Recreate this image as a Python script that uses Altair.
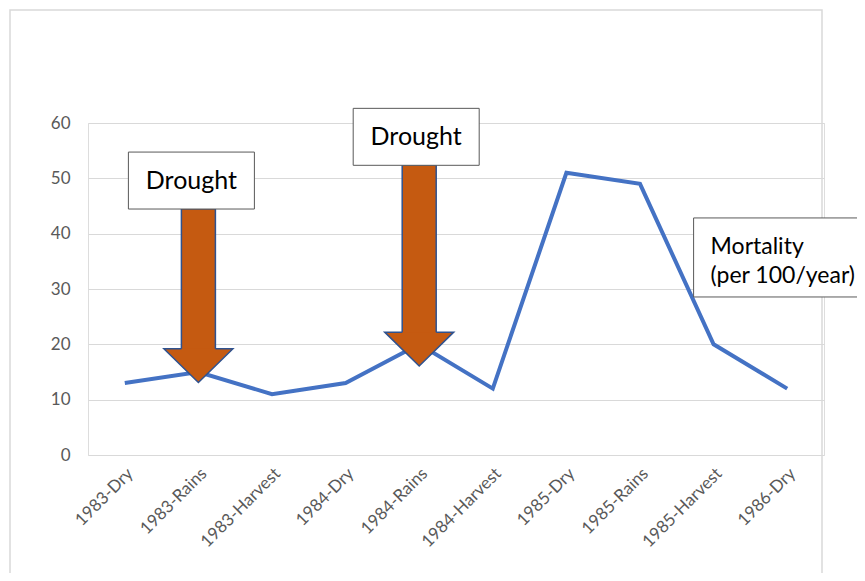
import altair as alt
import pandas as pd

# ---- chart values ----
periods = ["1983-Dry", "1983-Rains", "1983-Harvest", "1984-Dry", "1984-Rains",
           "1984-Harvest", "1985-Dry", "1985-Rains", "1985-Harvest", "1986-Dry"]
mortality = [13, 15, 11, 13, 20, 12, 51, 49, 20, 12]
y_ticks = [0, 10, 20, 30, 40, 50, 60]

drought_periods = ["1983-Rains", "1984-Rains"]
drought_label = "Drought"
series_label = ["Mortality", "(per 100/year)"]
series_label_period = "1985-Harvest"

# annotation anchors (data units on the mortality axis)
arrow_tip = [13.0, 16.3]
arrow_head_base = [19.2, 22.2]
arrow_top = [44.5, 52.4]
box_center = [49.6, 57.5]
box_dx = [-7, -3]
label_box_center = 35.7
label_lines_y = [36.4, 31.0]

FONT = "Lato"
LINE = "#4472C4"
ARROW = "#C55A11"
ARROW_EDGE = "#2F528F"

df = pd.DataFrame({"period": periods, "mortality": mortality})
arrows = pd.DataFrame({"period": drought_periods, "base": [b - 0.5 for b in arrow_head_base],
                       "head": arrow_head_base, "top": arrow_top})

xscale = alt.Scale(type="band", domain=periods, paddingInner=0, paddingOuter=0)
yscale = alt.Scale(domain=[0, 60], nice=False)

X = alt.X("period:N", scale=xscale, sort=periods,
          axis=alt.Axis(title=None, labelAngle=-45, domain=False, ticks=False, grid=False,
                        labelColor="#595959", labelFont=FONT, labelFontSize=17,
                        labelPadding=10))
Y = alt.Y("mortality:Q", scale=yscale,
          axis=alt.Axis(title=None, values=y_ticks, domain=False, ticks=False,
                        labelColor="#595959", labelFont=FONT, labelFontSize=17,
                        labelPadding=18, gridColor="#D9D9D9", gridWidth=1))

frame = alt.Chart(pd.DataFrame({"a": [0]})).mark_rect(
    fillOpacity=0, stroke="#D9D9D9", strokeWidth=1.5
).encode(x=alt.value(-78), x2=alt.value(734), y=alt.value(-113), y2=alt.value(475))

line = alt.Chart(df).mark_line(color=LINE, strokeWidth=4).encode(x=X, y=Y)

shaft = alt.Chart(arrows).mark_bar(size=34, fill=ARROW, stroke=ARROW_EDGE, strokeWidth=1.5).encode(
    x=alt.X("period:N", scale=xscale, sort=periods),
    y=alt.Y("base:Q", scale=yscale),
    y2="top:Q",
)
head = alt.Chart(arrows).mark_point(
    shape="M-0.493,0 L-1,0 L0,0.98 L1,0 L0.493,0",
    size=69 ** 2, filled=True, fill=ARROW, stroke=ARROW_EDGE, strokeWidth=1.5,
    opacity=1, fillOpacity=1, strokeOpacity=1,
).encode(x=alt.X("period:N", scale=xscale, sort=periods), y=alt.Y("head:Q", scale=yscale))

layers = [frame, line, shaft, head]

for p, cy, dx in zip(drought_periods, box_center, box_dx):
    d = pd.DataFrame({"period": [p], "y": [cy], "t": [drought_label]})
    box = alt.Chart(d).mark_point(
        shape="M-1,-0.452 L1,-0.452 L1,0.452 L-1,0.452 Z", size=126 ** 2,
        filled=True, fill="white", stroke="#595959", strokeWidth=1,
        opacity=1, fillOpacity=1, strokeOpacity=1, xOffset=dx,
    ).encode(x=alt.X("period:N", scale=xscale, sort=periods), y=alt.Y("y:Q", scale=yscale))
    txt = alt.Chart(d).mark_text(
        font=FONT, fontSize=25, color="black", align="center", baseline="middle", xOffset=dx
    ).encode(x=alt.X("period:N", scale=xscale, sort=periods), y=alt.Y("y:Q", scale=yscale), text="t:N")
    layers += [box, txt]

lb = pd.DataFrame({"period": [series_label_period], "y": [label_box_center]})
label_box = alt.Chart(lb).mark_point(
    shape="M0,-0.45 L2,-0.45 L2,0.45 L0,0.45 Z", size=175.6 ** 2,
    filled=True, fill="white", stroke="#595959", strokeWidth=1,
    opacity=1, fillOpacity=1, strokeOpacity=1, xOffset=-20,
).encode(x=alt.X("period:N", scale=xscale, sort=periods), y=alt.Y("y:Q", scale=yscale))
lt = pd.DataFrame({"period": [series_label_period] * 2, "y": label_lines_y, "t": series_label})
label_txt = alt.Chart(lt).mark_text(
    font=FONT, fontSize=23, color="black", align="left", baseline="alphabetic", xOffset=-3
).encode(x=alt.X("period:N", scale=xscale, sort=periods), y=alt.Y("y:Q", scale=yscale), text="t:N")
layers += [label_box, label_txt]

chart = alt.layer(*layers).properties(
    width=736, height=332,
    autosize=alt.AutoSizeParams(type="none"),
    padding={"left": 80, "top": 115, "right": 33, "bottom": 118},
).configure_view(stroke=None).configure(background="white")

chart.save("out.html", embed_options={"renderer": "svg", "actions": False})
